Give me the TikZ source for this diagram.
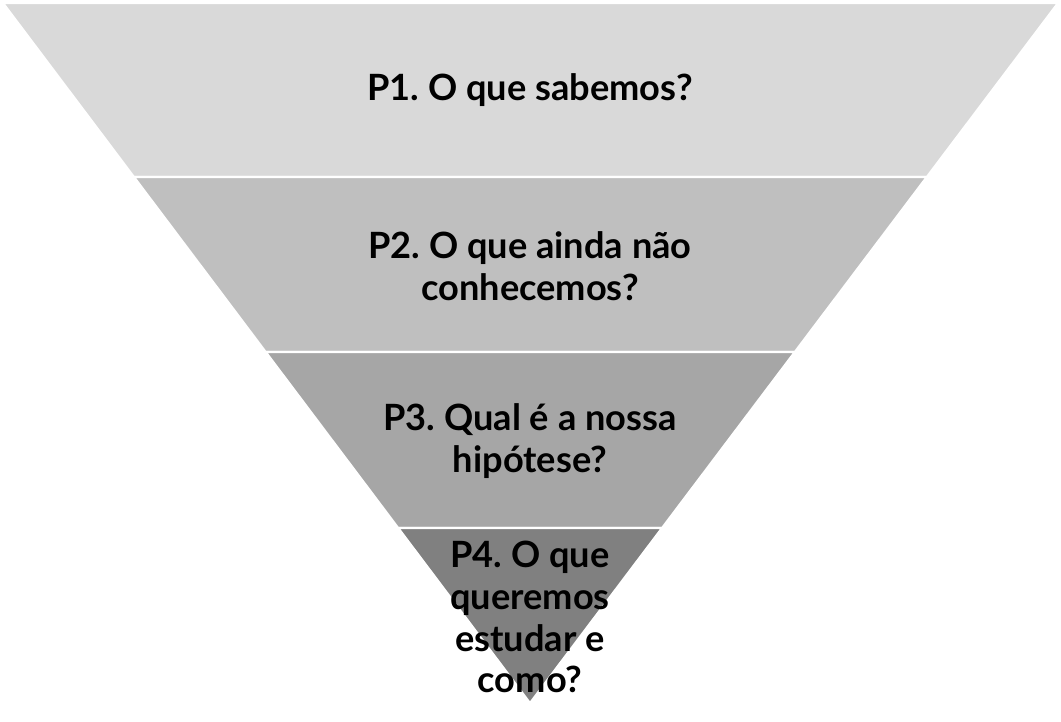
\documentclass[tikz,border=0pt]{standalone}
\usepackage{fontspec}
\setmainfont{Lato}
\frenchspacing
\usetikzlibrary{calc}
\begin{document}
\begin{tikzpicture}[x=0.02cm,y=-0.02cm,
  band/.style={draw=white,line width=1.2pt},
  label/.style={align=center,font=\bfseries\fontsize{20.6}{23.8}\selectfont,text=black}]
  % Bounding box like the reference
  \useasboundingbox (0,0) rectangle (1061,721);
  % Named corners of the funnel
  \coordinate (tl) at (3,3);
  \coordinate (tr) at (1058,3);
  \coordinate (apex) at (530,703);
  % Draw the four bands
  \fill[band,fill=gray!30] (tl) -- (tr) -- ($(tr)!0.2486!(apex)$) -- ($(tl)!0.2486!(apex)$) -- cycle;
  \fill[band,fill=gray!50] ($(tl)!0.2486!(apex)$) -- ($(tr)!0.2486!(apex)$) -- ($(tr)!0.4986!(apex)$) -- ($(tl)!0.4986!(apex)$) -- cycle;
  \fill[band,fill=gray!70] ($(tl)!0.4986!(apex)$) -- ($(tr)!0.4986!(apex)$) -- ($(tr)!0.7500!(apex)$) -- ($(tl)!0.7500!(apex)$) -- cycle;
  \fill[band,fill=gray] ($(tl)!0.7500!(apex)$) -- ($(tr)!0.7500!(apex)$) -- (apex) -- cycle;
  \draw[white,line width=1.2pt] ($(tl)!0.2486!(apex)$) -- ($(tr)!0.2486!(apex)$)
    ($(tl)!0.4986!(apex)$) -- ($(tr)!0.4986!(apex)$)
    ($(tl)!0.7500!(apex)$) -- ($(tr)!0.7500!(apex)$);
  % Label the bands
  \node[label] (p1) at (530,90) {P1. O que sabemos?};
  \node[label] (p2) at (530,266) {P2. O que ainda não\\conhecemos?};
  \node[label] (p3) at (530,441) {P3. Qual é a nossa\\hipótese?};
  \node[label] (p4) at (530,617) {P4. O que\\queremos\\estudar e\\como?};
\end{tikzpicture}
\end{document}
